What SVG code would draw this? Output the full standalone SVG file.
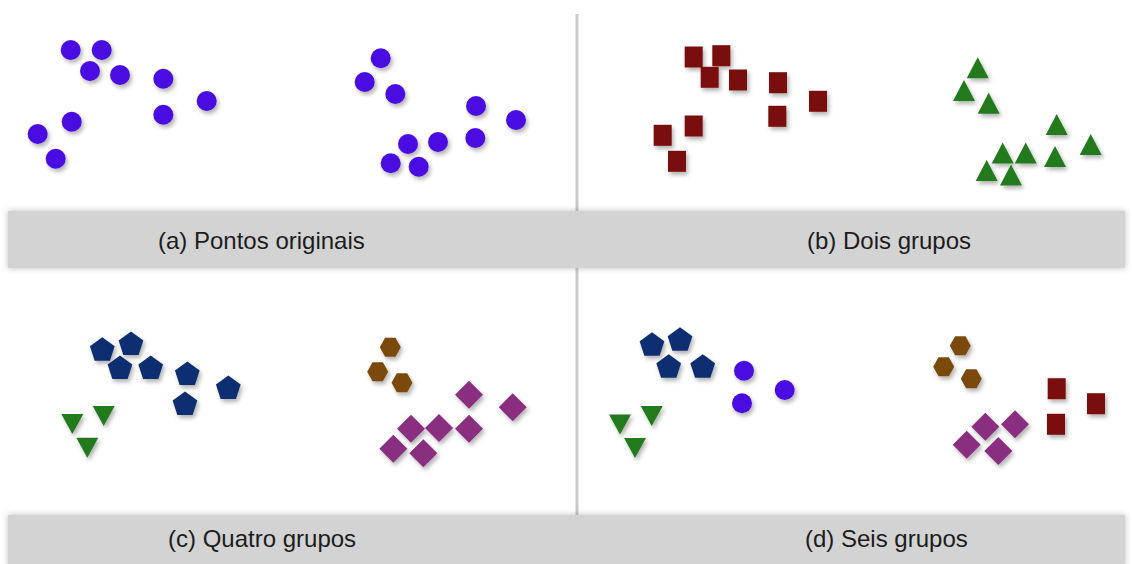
<svg xmlns="http://www.w3.org/2000/svg" xmlns:xlink="http://www.w3.org/1999/xlink" width="1132" height="564" viewBox="0 0 1132 564">
  <style>
    .cap { font-family: "Liberation Sans", Arial, sans-serif; font-size: 24px; fill: #1c1c1c; }
    .band { fill: #d3d3d3; filter: url(#bandShadow); }
    .div { stroke: #cacaca; stroke-width: 3; }
    .pt { filter: url(#soft); }
    .violet { fill: #4a10e2; }
    .maroon { fill: #7a1010; }
    .green { fill: #217a1c; }
    .navy { fill: #102f70; }
    .brown { fill: #7c4a0c; }
    .plum { fill: #8a2e80; }
  </style>
  <defs>
    <filter id="soft" x="-50%" y="-50%" width="200%" height="200%">
      <feDropShadow dx="2" dy="3" stdDeviation="2" flood-color="#000" flood-opacity="0.3"/>
    </filter>
    <filter id="bandShadow" x="-5%" y="-30%" width="110%" height="160%">
      <feDropShadow dx="0" dy="0" stdDeviation="3" flood-color="#000" flood-opacity="0.25"/>
    </filter>
    <circle id="dot" r="10"/>
    <rect id="sq" x="-9" y="-10.5" width="18" height="21"/>
    <polygon id="triUp" points="0,-10.5 11,10.5 -11,10.5"/>
    <polygon id="triDown" points="-11,-10 11,-10 0,10"/>
    <polygon id="penta" points="0,-11.76 12.36,-2.78 7.64,11.76 -7.64,11.76 -12.36,-2.78"/>
    <polygon id="hexa" points="5.2,-9.5 10.5,0 5.2,9.5 -5.2,9.5 -10.5,0 -5.2,-9.5"/>
    <polygon id="dia" points="0,-14 14,0 0,14 -14,0"/>
  </defs>

  <rect width="1132" height="564" fill="#ffffff"/>

  <!-- caption bands and panel dividers -->
  <g id="frame">
    <line class="div" x1="577" y1="14" x2="577" y2="212"/>
    <line class="div" x1="577" y1="268" x2="577" y2="516"/>
    <rect class="band" x="8" y="211" width="1117" height="57"/>
    <rect class="band" x="8" y="515" width="1117" height="52"/>
  </g>

  <g id="connectors"/>

  <!-- (a) original points -->
  <g id="panel-a" class="pt violet">
    <use href="#dot" x="70.7" y="50"/>
    <use href="#dot" x="101.7" y="50"/>
    <use href="#dot" x="90" y="71"/>
    <use href="#dot" x="120" y="75"/>
    <use href="#dot" x="163.3" y="78.7"/>
    <use href="#dot" x="206.7" y="101"/>
    <use href="#dot" x="163.3" y="114.7"/>
    <use href="#dot" x="71.7" y="121.7"/>
    <use href="#dot" x="37.7" y="134"/>
    <use href="#dot" x="55.7" y="158.7"/>
    <use href="#dot" x="380.7" y="58.3"/>
    <use href="#dot" x="364.7" y="82"/>
    <use href="#dot" x="395.3" y="94"/>
    <use href="#dot" x="476" y="106"/>
    <use href="#dot" x="516" y="120"/>
    <use href="#dot" x="475.3" y="138"/>
    <use href="#dot" x="438" y="142"/>
    <use href="#dot" x="408" y="144"/>
    <use href="#dot" x="390.7" y="163.3"/>
    <use href="#dot" x="418.7" y="166.7"/>
  </g>
  <text id="cap-a" class="cap" x="158" y="249">(a) Pontos originais</text>

  <!-- (b) two groups -->
  <g id="panel-b">
    <g id="b-squares" class="pt maroon">
      <use href="#sq" x="693.7" y="57"/>
      <use href="#sq" x="721.3" y="55.7"/>
      <use href="#sq" x="709.7" y="77.3"/>
      <use href="#sq" x="738" y="80"/>
      <use href="#sq" x="778" y="82.7"/>
      <use href="#sq" x="818" y="101.3"/>
      <use href="#sq" x="777.3" y="116.3"/>
      <use href="#sq" x="693.7" y="126"/>
      <use href="#sq" x="662.7" y="135.3"/>
      <use href="#sq" x="677" y="161.3"/>
    </g>
    <g id="b-triangles" class="pt green">
      <use href="#triUp" x="977.7" y="67.8"/>
      <use href="#triUp" x="964" y="90.5"/>
      <use href="#triUp" x="988.7" y="103.3"/>
      <use href="#triUp" x="1056.7" y="124.5"/>
      <use href="#triUp" x="1090.7" y="144.5"/>
      <use href="#triUp" x="1055" y="156.6"/>
      <use href="#triUp" x="1002.7" y="153"/>
      <use href="#triUp" x="1025.7" y="153"/>
      <use href="#triUp" x="986.7" y="170.5"/>
      <use href="#triUp" x="1011" y="175"/>
    </g>
  </g>
  <text id="cap-b" class="cap" x="807" y="249">(b) Dois grupos</text>

  <!-- (c) four groups -->
  <g id="panel-c">
    <g id="c-pentagons" class="pt navy">
      <use href="#penta" x="102.3" y="349"/>
      <use href="#penta" x="131" y="343.3"/>
      <use href="#penta" x="120" y="367.3"/>
      <use href="#penta" x="150.7" y="367.3"/>
      <use href="#penta" x="187.3" y="373.3"/>
      <use href="#penta" x="228.3" y="387.3"/>
      <use href="#penta" x="185" y="403.3"/>
    </g>
    <g id="c-triangles" class="pt green">
      <use href="#triDown" x="72.3" y="424"/>
      <use href="#triDown" x="103.7" y="416"/>
      <use href="#triDown" x="87.3" y="447.8"/>
    </g>
    <g id="c-hexagons" class="pt brown">
      <use href="#hexa" x="390.3" y="347.3"/>
      <use href="#hexa" x="377.7" y="371.7"/>
      <use href="#hexa" x="402" y="382.7"/>
    </g>
    <g id="c-diamonds" class="pt plum">
      <use href="#dia" x="469" y="394.7"/>
      <use href="#dia" x="512.7" y="407.3"/>
      <use href="#dia" x="411" y="428.7"/>
      <use href="#dia" x="439" y="428"/>
      <use href="#dia" x="469" y="428.7"/>
      <use href="#dia" x="393.3" y="448.7"/>
      <use href="#dia" x="423.3" y="453.3"/>
    </g>
  </g>
  <text id="cap-c" class="cap" x="168" y="547">(c) Quatro grupos</text>

  <!-- (d) six groups -->
  <g id="panel-d">
    <g id="d-pentagons" class="pt navy">
      <use href="#penta" x="652" y="344"/>
      <use href="#penta" x="680" y="339"/>
      <use href="#penta" x="668.7" y="366"/>
      <use href="#penta" x="702.7" y="366"/>
    </g>
    <g id="d-circles" class="pt violet">
      <use href="#dot" x="744" y="370.7"/>
      <use href="#dot" x="784.7" y="390"/>
      <use href="#dot" x="742" y="403.3"/>
    </g>
    <g id="d-triangles" class="pt green">
      <use href="#triDown" x="620" y="424.5"/>
      <use href="#triDown" x="651.7" y="416"/>
      <use href="#triDown" x="635" y="448"/>
    </g>
    <g id="d-hexagons" class="pt brown">
      <use href="#hexa" x="960.3" y="345.7"/>
      <use href="#hexa" x="943.7" y="366.7"/>
      <use href="#hexa" x="971.3" y="378.7"/>
    </g>
    <g id="d-squares" class="pt maroon">
      <use href="#sq" x="1056.7" y="388.7"/>
      <use href="#sq" x="1096" y="403.7"/>
      <use href="#sq" x="1056" y="424.3"/>
    </g>
    <g id="d-diamonds" class="pt plum">
      <use href="#dia" x="985.3" y="426.7"/>
      <use href="#dia" x="1015" y="424.3"/>
      <use href="#dia" x="966.7" y="444.7"/>
      <use href="#dia" x="998.3" y="451"/>
    </g>
  </g>
  <text id="cap-d" class="cap" x="805" y="547">(d) Seis grupos</text>
</svg>
